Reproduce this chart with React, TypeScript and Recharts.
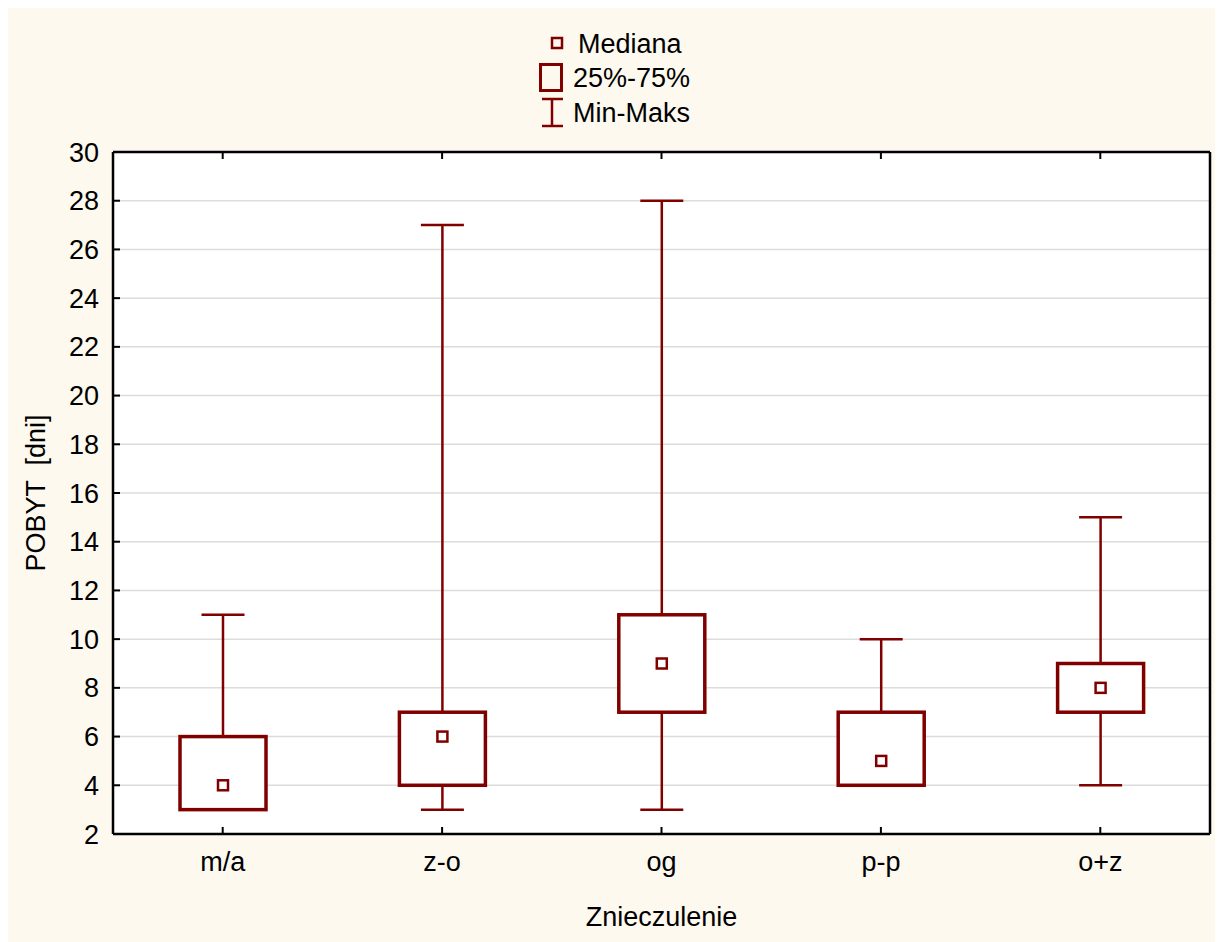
import React from 'react';
import { ComposedChart, Bar, XAxis, YAxis, CartesianGrid, Label } from 'recharts';

// Length of stay (days) by anaesthesia type: min, quartiles, median, max
const categories = ['m/a', 'z-o', 'og', 'p-p', 'o+z'];
const minValues = [3, 3, 3, 4, 4];
const q1Values = [3, 4, 7, 4, 7];
const medianValues = [4, 6, 9, 5, 8];
const q3Values = [6, 7, 11, 7, 9];
const maxValues = [11, 27, 28, 10, 15];
const yTicks = [2, 4, 6, 8, 10, 12, 14, 16, 18, 20, 22, 24, 26, 28, 30];

const data = categories.map((name, i) => ({
  name,
  min: minValues[i],
  q1: q1Values[i],
  median: medianValues[i],
  q3: q3Values[i],
  max: maxValues[i],
}));

const RED = '#800000';
const FONT = '"Liberation Sans", Arial, sans-serif';
const FONT_SIZE = 27;

// Draws one box-and-whisker item from the [min, max] bar geometry
const BoxWhisker = (props: any) => {
  const { x, y, width, height, payload } = props;
  const { min, q1, median, q3, max } = payload;
  const top = Math.min(y, y + height);
  const span = Math.abs(height);
  const bottom = top + span;
  const toY = (v: number) => bottom - ((v - min) / (max - min)) * span;
  const cx = x + width / 2;
  const capHalf = width / 4;
  return (
    <g>
      <line x1={cx} x2={cx} y1={toY(max)} y2={toY(q3)} stroke={RED} strokeWidth={2.5} />
      <line x1={cx} x2={cx} y1={toY(q1)} y2={toY(min)} stroke={RED} strokeWidth={2.5} />
      <line x1={cx - capHalf} x2={cx + capHalf} y1={toY(max)} y2={toY(max)} stroke={RED} strokeWidth={2.5} />
      <line x1={cx - capHalf} x2={cx + capHalf} y1={toY(min)} y2={toY(min)} stroke={RED} strokeWidth={2.5} />
      <rect x={x} y={toY(q3)} width={width} height={toY(q1) - toY(q3)} fill="#ffffff" stroke={RED} strokeWidth={3.5} />
      <rect x={cx - 5} y={toY(median) - 5} width={10} height={10} fill="#ffffff" stroke={RED} strokeWidth={2.5} />
    </g>
  );
};

const LegendBox = () => (
  <svg width={1215} height={140} style={{ position: 'absolute', left: 0, top: 0 }}>
    <g fontFamily={FONT} fontSize={FONT_SIZE} fill="#000">
      <rect x={544} y={30} width={10} height={10} fill="none" stroke={RED} strokeWidth={2.5} />
      <text x={570} y={45}>Mediana</text>
      <rect x={532.5} y={56.5} width={21} height={26} fill="none" stroke={RED} strokeWidth={3} />
      <text x={565} y={79}>25%-75%</text>
      <line x1={544} x2={544} y1={90} y2={119} stroke={RED} strokeWidth={2.5} />
      <line x1={534} x2={555} y1={91} y2={91} stroke={RED} strokeWidth={2.5} />
      <line x1={534} x2={555} y1={118} y2={118} stroke={RED} strokeWidth={2.5} />
      <text x={565} y={114}>Min-Maks</text>
    </g>
  </svg>
);

export default function App() {
  const axisLine = { stroke: '#000', strokeWidth: 2.5 };
  const tickLine = { stroke: '#000', strokeWidth: 2 };
  const tickStyle = { fill: '#000', fontSize: FONT_SIZE, fontFamily: FONT };
  return (
    <div style={{ position: 'relative', width: 1215, height: 934, background: '#fdf9ef' }}>
      <ComposedChart
        width={1215}
        height={934}
        data={data}
        margin={{ top: 143, right: 12, bottom: 68, left: 45 }}
      >
        <CartesianGrid vertical={false} stroke="#dcdcdc" strokeWidth={1.5} fill="#ffffff" />
        <XAxis
          dataKey="name"
          height={40}
          interval={0}
          tickSize={-7}
          tickMargin={25}
          axisLine={axisLine}
          tickLine={tickLine}
          tick={tickStyle}
        >
          <Label
            content={({ viewBox }: any) => (
              <text
                x={viewBox.x + viewBox.width / 2}
                y={918}
                textAnchor="middle"
                fontFamily={FONT}
                fontSize={FONT_SIZE}
                fill="#000"
              >
                Znieczulenie
              </text>
            )}
          />
        </XAxis>
        <XAxis
          xAxisId="top"
          orientation="top"
          dataKey="name"
          height={1}
          interval={0}
          tickSize={-7}
          axisLine={axisLine}
          tickLine={tickLine}
          tickFormatter={() => ''}
        />
        <YAxis
          type="number"
          domain={[2, 30]}
          ticks={yTicks}
          interval={0}
          width={60}
          tickSize={-7}
          tickMargin={21}
          axisLine={axisLine}
          tickLine={tickLine}
          tick={tickStyle}
        >
          <Label
            content={({ viewBox }: any) => {
              const cy = viewBox.y + viewBox.height / 2;
              return (
                <text
                  x={36.5}
                  y={cy}
                  transform={`rotate(-90, 36.5, ${cy})`}
                  textAnchor="middle"
                  fontFamily={FONT}
                  fontSize={FONT_SIZE}
                  fill="#000"
                  style={{ whiteSpace: 'pre' }}
                >
                  {'POBYT  [dni]'}
                </text>
              );
            }}
          />
        </YAxis>
        <YAxis
          yAxisId="right"
          orientation="right"
          type="number"
          domain={[2, 30]}
          ticks={yTicks}
          interval={0}
          width={1}
          tickSize={-7}
          axisLine={axisLine}
          tickLine={tickLine}
          tickFormatter={() => ''}
        />
        <Bar
          dataKey={(d: any) => [d.min, d.max]}
          barSize={86}
          shape={<BoxWhisker />}
          isAnimationActive={false}
        />
      </ComposedChart>
      <LegendBox />
    </div>
  );
}
